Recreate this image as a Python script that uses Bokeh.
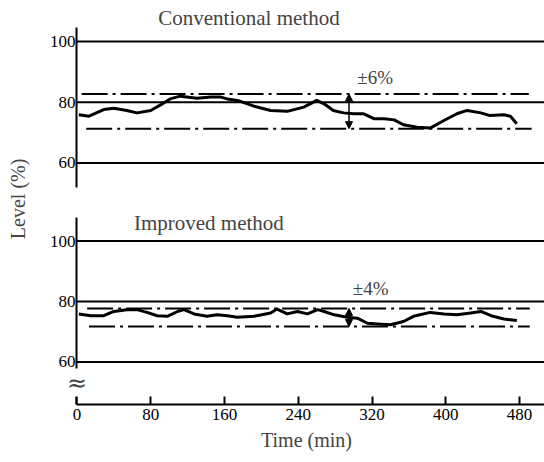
import math
from bokeh.plotting import figure
from bokeh.layouts import row, column
from bokeh.models import Label, Arrow, NormalHead, FixedTicker, Range1d, LinearAxis
from bokeh.embed import file_html
from bokeh.resources import INLINE

# ---------------- data ----------------
conv_t = [2, 13, 29, 40, 54, 65, 80, 91, 101, 112, 130, 145, 156, 163, 174, 192, 210, 228, 246, 260,
          268, 278, 289, 300, 311, 322, 333, 344, 354, 369, 383, 398, 412, 423, 438, 448, 463, 470, 477]
conv_lvl = [75.9, 75.4, 77.6, 78.0, 77.3, 76.5, 77.3, 79.2, 81.1, 82.0, 81.3, 81.7, 81.7, 81.1, 80.6, 78.7, 77.3, 77.0, 78.4, 80.6,
            79.5, 77.3, 76.5, 76.2, 76.2, 74.6, 74.6, 74.2, 72.6, 71.8, 71.5, 74.0, 76.2, 77.3, 76.5, 75.6, 75.9, 75.4, 72.9]

impr_t = [2, 15, 29, 40, 54, 65, 76, 87, 98, 109, 116, 127, 141, 152, 163, 174, 192, 210, 217, 228,
          239, 250, 261, 268, 279, 293, 304, 315, 326, 340, 354, 365, 383, 398, 412, 427, 438, 449, 463, 477]
impr_lvl = [75.9, 75.3, 75.3, 76.7, 77.3, 77.3, 76.4, 75.3, 75.1, 76.7, 77.3, 75.9, 75.1, 75.6, 75.3, 74.8, 75.1, 76.2, 77.5, 75.9,
            76.7, 75.9, 77.3, 76.7, 75.6, 74.8, 74.5, 72.8, 72.6, 72.3, 73.4, 75.1, 76.4, 75.9, 75.6, 76.2, 76.7, 75.3, 74.2, 73.7]

conv_upper, conv_lower = 82.7, 71.3
conv_upper_span, conv_lower_span = [5, 490], [10, 493]
impr_upper, impr_lower = 77.7, 71.7
impr_upper_span, impr_lower_span = [11, 491], [13, 491]
arrow_t = 295

y_ticks = [60, 80, 100]
x_ticks = [0, 80, 160, 240, 320, 400, 480]

conv_title = "Conventional method"
impr_title = "Improved method"
conv_note = "±6%"
impr_note = "±4%"
x_label = "Time (min)"
y_label = "Level (%)"

SERIF = "Liberation Serif"
X_START, X_END = -9.2, 507.0


def style_common(p, bounds):
    p.outline_line_color = None
    p.background_fill_color = "white"
    p.border_fill_color = "white"
    p.grid.visible = False
    # reference lines at the y ticks, from the axis to the right edge
    n = len(y_ticks)
    p.segment(x0=[0] * n, x1=[X_END] * n, y0=y_ticks, y1=y_ticks, line_color="black", line_width=2)
    # tick labels: normal axis at the frame edge, no line
    ax = p.yaxis[0]
    ax.ticker = FixedTicker(ticks=y_ticks)
    ax.axis_line_color = None
    ax.major_tick_line_color = None
    ax.minor_tick_line_color = None
    ax.major_tick_out = 0
    ax.major_tick_in = 0
    ax.minor_tick_out = 0
    ax.minor_tick_in = 0
    ax.major_label_standoff = -7
    ax.major_label_text_font = SERIF
    ax.major_label_text_font_size = "17px"
    ax.major_label_text_color = "black"
    # axis line at t = 0
    line_ax = LinearAxis(fixed_location=0, bounds=bounds, ticker=FixedTicker(ticks=[]),
                         axis_line_width=2, major_tick_in=0, major_tick_out=0,
                         minor_tick_in=0, minor_tick_out=0)
    p.add_layout(line_ax, "left")


def add_band(p, t, lvl, up, lo, up_span, lo_span, note, note_x, note_y):
    p.line(up_span, [up, up], line_color="black", line_width=2, line_dash="26 5 3 5")
    p.line(lo_span, [lo, lo], line_color="black", line_width=2, line_dash="26 5 3 5")
    p.line(t, lvl, line_color="black", line_width=3, line_join="round")
    head = dict(size=7, fill_color="black", line_color="black")
    p.add_layout(Arrow(start=NormalHead(**head), end=NormalHead(**head),
                       x_start=arrow_t, y_start=up, x_end=arrow_t, y_end=lo,
                       line_color="black", line_width=1.5))
    p.add_layout(Label(x=note_x, y=note_y, text=note, text_font=SERIF,
                       text_font_size="19px", text_align="left", text_baseline="middle"))


# ---------------- top panel ----------------
p1 = figure(width=506, height=198, x_range=Range1d(X_START, X_END), y_range=Range1d(48.31, 113.5),
            x_axis_location=None, toolbar_location=None, output_backend="svg",
            min_border_left=30, min_border_right=0, min_border_top=0, min_border_bottom=0)
style_common(p1, (51.93, 104.61))
add_band(p1, conv_t, conv_lvl, conv_upper, conv_lower, conv_upper_span, conv_lower_span,
         conv_note, 304, 88.2)
p1.add_layout(Label(x=186.5, y=107.6, text=conv_title, text_font=SERIF, text_font_size="21px",
                    text_align="center", text_baseline="middle"))

# ---------------- bottom panel ----------------
p2 = figure(width=506, height=256, x_range=Range1d(X_START, X_END), y_range=Range1d(45.95, 114.05),
            toolbar_location=None, output_backend="svg",
            min_border_left=30, min_border_right=0, min_border_top=0, min_border_bottom=50)
style_common(p2, (45.95, 107.77))
add_band(p2, impr_t, impr_lvl, impr_upper, impr_lower, impr_upper_span, impr_lower_span,
         impr_note, 299, 84.2)
p2.add_layout(Label(x=143, y=105.8, text=impr_title, text_font=SERIF, text_font_size="21px",
                    text_align="center", text_baseline="middle"))
xa = p2.xaxis[0]
xa.bounds = (0, X_END)
xa.ticker = FixedTicker(ticks=x_ticks)
xa.axis_line_width = 2
xa.major_tick_in = 8
xa.major_tick_out = 0
xa.major_tick_line_width = 2
xa.minor_tick_in = 0
xa.minor_tick_out = 0
xa.major_label_standoff = 4
xa.major_label_text_font = SERIF
xa.major_label_text_font_size = "17px"
xa.major_label_text_color = "black"
xa.axis_label = x_label
xa.axis_label_text_font = SERIF
xa.axis_label_text_font_size = "20px"
xa.axis_label_text_font_style = "normal"
xa.axis_label_standoff = 6
# axis break mark
p2.add_layout(Label(x=0, y=53.2, text="≈", text_font="DejaVu Sans", text_font_size="24px",
                    text_align="center", text_baseline="middle",
                    background_fill_color="white"))

# ---------------- y label strip ----------------
pl = figure(width=38, height=454, x_range=Range1d(0, 1), y_range=Range1d(0, 1),
            x_axis_location=None, y_axis_location=None, toolbar_location=None,
            output_backend="svg", min_border=0)
pl.outline_line_color = None
pl.grid.visible = False
pl.add_layout(Label(x=0.46, y=0.563, text=y_label, angle=math.pi / 2, text_font=SERIF,
                    text_font_size="20px", text_align="center", text_baseline="middle"))

layout = row(pl, column(p1, p2))
open("out.html", "w").write(file_html(layout, INLINE))
